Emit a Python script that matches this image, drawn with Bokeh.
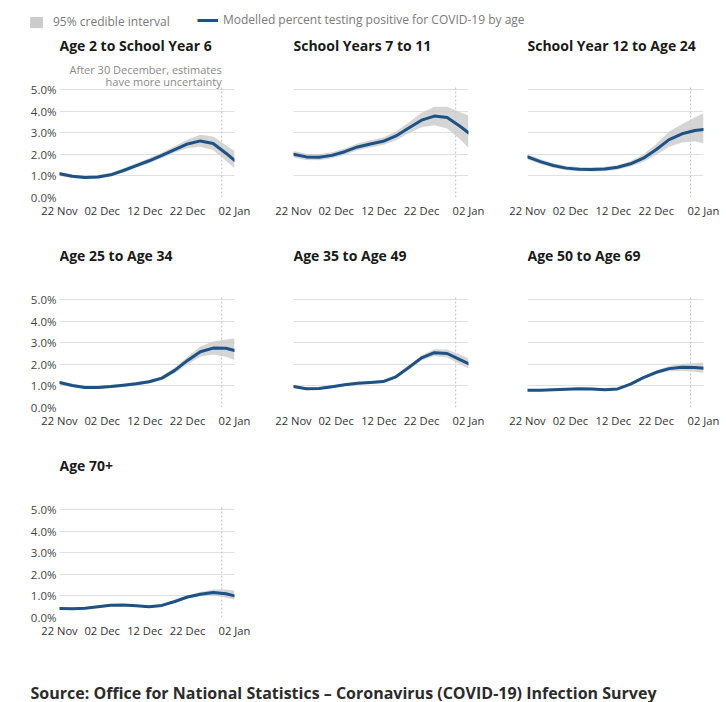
import pandas as pd
from bokeh.plotting import figure
from bokeh.layouts import column, row
from bokeh.models import (Range1d, FixedTicker, PrintfTickFormatter,
                          DatetimeTickFormatter, ColumnDataSource, Legend, LegendItem)
from bokeh.core.properties import value
from bokeh.embed import file_html
from bokeh.resources import INLINE

# ---- data -------------------------------------------------------------
dates = ["2020-11-22", "2020-11-25", "2020-11-28", "2020-12-01", "2020-12-04",
         "2020-12-07", "2020-12-10", "2020-12-13", "2020-12-16", "2020-12-19",
         "2020-12-22", "2020-12-25", "2020-12-28", "2020-12-31", "2021-01-02"]
tick_dates = ["2020-11-22", "2020-12-02", "2020-12-12", "2020-12-22", "2021-01-02"]
uncertain_from = "2020-12-30"
y_ticks = [0, 1, 2, 3, 4, 5]

titles = ["Age 2 to School Year 6", "School Years 7 to 11", "School Year 12 to Age 24",
          "Age 25 to Age 34", "Age 35 to Age 49", "Age 50 to Age 69", "Age 70+"]

mid_age2_sy6 = [1.10, 0.98, 0.93, 0.95, 1.05, 1.25, 1.48, 1.70, 1.95, 2.22, 2.48, 2.62, 2.50, 2.05, 1.72]
lo_age2_sy6 = [1.00, 0.90, 0.85, 0.87, 0.97, 1.16, 1.38, 1.59, 1.83, 2.08, 2.28, 2.35, 2.20, 1.70, 1.35]
hi_age2_sy6 = [1.20, 1.07, 1.02, 1.04, 1.14, 1.35, 1.59, 1.82, 2.08, 2.37, 2.68, 2.90, 2.82, 2.42, 2.15]

mid_sy7_11 = [2.00, 1.88, 1.86, 1.95, 2.12, 2.34, 2.48, 2.60, 2.85, 3.22, 3.58, 3.77, 3.70, 3.30, 3.00]
lo_sy7_11 = [1.85, 1.74, 1.72, 1.82, 1.98, 2.19, 2.32, 2.43, 2.65, 2.98, 3.25, 3.35, 3.20, 2.70, 2.30]
hi_sy7_11 = [2.15, 2.02, 2.00, 2.09, 2.27, 2.50, 2.65, 2.78, 3.06, 3.47, 3.92, 4.20, 4.20, 3.95, 3.80]

mid_sy12_24 = [1.88, 1.66, 1.48, 1.36, 1.31, 1.30, 1.32, 1.40, 1.56, 1.82, 2.22, 2.68, 2.95, 3.10, 3.15]
lo_sy12_24 = [1.76, 1.55, 1.38, 1.26, 1.21, 1.20, 1.22, 1.29, 1.44, 1.65, 1.98, 2.35, 2.55, 2.60, 2.50]
hi_sy12_24 = [2.00, 1.77, 1.58, 1.46, 1.41, 1.40, 1.42, 1.51, 1.68, 2.00, 2.48, 3.05, 3.40, 3.70, 3.90]

mid_25_34 = [1.16, 1.02, 0.93, 0.93, 0.97, 1.03, 1.10, 1.19, 1.36, 1.72, 2.18, 2.58, 2.75, 2.74, 2.64]
lo_25_34 = [1.08, 0.94, 0.86, 0.86, 0.90, 0.96, 1.02, 1.11, 1.27, 1.60, 2.00, 2.35, 2.45, 2.35, 2.20]
hi_25_34 = [1.24, 1.10, 1.00, 1.00, 1.04, 1.10, 1.18, 1.27, 1.45, 1.85, 2.35, 2.82, 3.05, 3.15, 3.20]

mid_35_49 = [0.97, 0.87, 0.88, 0.96, 1.05, 1.12, 1.16, 1.20, 1.42, 1.85, 2.30, 2.54, 2.50, 2.22, 2.03]
lo_35_49 = [0.91, 0.81, 0.82, 0.90, 0.99, 1.06, 1.10, 1.14, 1.35, 1.75, 2.18, 2.38, 2.32, 2.00, 1.80]
hi_35_49 = [1.03, 0.93, 0.94, 1.02, 1.11, 1.18, 1.22, 1.26, 1.49, 1.95, 2.42, 2.70, 2.68, 2.45, 2.28]

mid_50_69 = [0.80, 0.80, 0.82, 0.84, 0.87, 0.86, 0.82, 0.86, 1.08, 1.38, 1.63, 1.80, 1.86, 1.85, 1.82]
lo_50_69 = [0.75, 0.75, 0.77, 0.79, 0.82, 0.81, 0.77, 0.81, 1.02, 1.31, 1.55, 1.68, 1.70, 1.65, 1.60]
hi_50_69 = [0.85, 0.85, 0.87, 0.89, 0.92, 0.91, 0.87, 0.91, 1.14, 1.45, 1.71, 1.92, 2.02, 2.05, 2.08]

mid_70plus = [0.42, 0.40, 0.43, 0.50, 0.57, 0.58, 0.54, 0.50, 0.56, 0.74, 0.95, 1.08, 1.16, 1.10, 1.00]
lo_70plus = [0.37, 0.35, 0.38, 0.45, 0.52, 0.53, 0.49, 0.45, 0.51, 0.68, 0.88, 0.98, 1.02, 0.92, 0.82]
hi_70plus = [0.47, 0.45, 0.48, 0.55, 0.62, 0.63, 0.59, 0.55, 0.61, 0.80, 1.02, 1.18, 1.30, 1.30, 1.25]

legend_band = "95% credible interval"
legend_line = "Modelled percent testing positive for COVID-19 by age"
note_lines = ["After 30 December, estimates", "have more uncertainty"]
source_text = "Source: Office for National Statistics \u2013 Coronavirus (COVID-19) Infection Survey"

# ---- styling ----------------------------------------------------------
FONT = "Open Sans"
LINE_BLUE = "#1c5285"
BAND_GREY = "#cbcbcb"
GRID_GREY = "#e0e0e0"

x_dates = pd.to_datetime(dates)
tick_ms = [pd.Timestamp(d).timestamp() * 1000 for d in tick_dates]
cut = pd.Timestamp(uncertain_from)

series = [
    (mid_age2_sy6, lo_age2_sy6, hi_age2_sy6),
    (mid_sy7_11, lo_sy7_11, hi_sy7_11),
    (mid_sy12_24, lo_sy12_24, hi_sy12_24),
    (mid_25_34, lo_25_34, hi_25_34),
    (mid_35_49, lo_35_49, hi_35_49),
    (mid_50_69, lo_50_69, hi_50_69),
    (mid_70plus, lo_70plus, hi_70plus),
]

ROW_H = 210
BOTTOM = 48
FRAME_H = ROW_H - BOTTOM
PX_PER_PCT = 21.6
Y_TOP = FRAME_H / PX_PER_PCT


def panel(i, col):
    mid, lo, hi = series[i]
    if col == 0:
        width, left, right = 254, 59, 20
    elif col == 1:
        width, left, right = 234, 39, 20
    else:
        width, left, right = 238, 39, 23
    p = figure(width=width, height=ROW_H, output_backend="svg", toolbar_location=None,
               x_axis_type="datetime",
               x_range=Range1d(x_dates[0], x_dates[-1]),
               y_range=Range1d(0, Y_TOP),
               min_border_left=left, min_border_right=right,
               min_border_top=0, min_border_bottom=BOTTOM)
    p.outline_line_color = None
    p.background_fill_color = "white"
    p.border_fill_color = "white"

    src = ColumnDataSource(dict(date=x_dates, mid=mid, lo=lo, hi=hi))

    p.xgrid.visible = False
    p.ygrid.ticker = FixedTicker(ticks=y_ticks[1:])
    p.ygrid.grid_line_color = GRID_GREY

    p.segment(x0=[cut], y0=[0], x1=[cut], y1=[5.15], line_color="#c0c0c0",
              line_dash="2 2", line_width=1)

    p.varea(x="date", y1="lo", y2="hi", source=src, fill_color=BAND_GREY, fill_alpha=0.8)
    p.line(x="date", y="mid", source=src, line_color=LINE_BLUE, line_width=3,
           line_join="round", line_cap="round")

    p.text(x=[x_dates[0]], y=[(FRAME_H - 10) / PX_PER_PCT], text=[titles[i]],
           text_font=value(FONT), text_font_style="bold", text_font_size="14px",
           text_color="#1a1a1a", text_align="left", text_baseline="middle")

    xa = p.xaxis[0]
    xa.ticker = FixedTicker(ticks=tick_ms)
    xa.formatter = DatetimeTickFormatter(days="%d %b", months="%d %b", years="%d %b")
    xa.axis_line_color = None
    xa.major_tick_line_color = None
    xa.minor_tick_line_color = None
    xa.major_tick_out = 0
    xa.major_tick_in = 0
    xa.minor_tick_out = 0
    xa.major_label_standoff = 5
    xa.major_label_text_font = FONT
    xa.major_label_text_font_size = "11.2px"
    xa.major_label_text_color = "#333333"

    ya = p.yaxis[0]
    if col == 0:
        ya.ticker = FixedTicker(ticks=y_ticks)
        ya.formatter = PrintfTickFormatter(format="%.1f%%")
        ya.axis_line_color = None
        ya.major_tick_line_color = None
        ya.minor_tick_line_color = None
        ya.major_tick_out = 0
        ya.major_tick_in = 0
        ya.minor_tick_out = 0
        ya.major_label_standoff = 3
        ya.major_label_text_font = FONT
        ya.major_label_text_font_size = "11.5px"
        ya.major_label_text_color = "#444444"
    else:
        ya.visible = False
    return p


panels = [panel(i, i % 3) for i in range(7)]

# note about the less certain final days, first panel only
p1 = panels[0]
for k, line in enumerate(note_lines):
    p1.text(x=[cut], y=[(FRAME_H - 34 - 12 * k) / PX_PER_PCT], text=[line],
            text_font=value(FONT), text_font_size="11px", text_color="#8a8a8a",
            text_align="right", text_baseline="middle")

# ---- header legend ----------------------------------------------------
header = figure(width=726, height=35, output_backend="svg", toolbar_location=None,
                x_axis_type=None, y_axis_type=None, x_range=(0, 1), y_range=(0, 1),
                min_border=0)
header.outline_line_color = None
header.xgrid.visible = False
header.ygrid.visible = False
# renderers kept outside the visible range; they only feed the legend keys
band_r = header.varea(x=[5, 6], y1=[5, 5], y2=[6, 6], fill_color=BAND_GREY, fill_alpha=1.0)
line_r = header.line(x=[5, 6], y=[5, 5], line_color=LINE_BLUE, line_width=3)

for item, loc, gw, gh, gap in [
        (LegendItem(label=legend_band, renderers=[band_r]), (28, 5), 16, 14, 9),
        (LegendItem(label=legend_line, renderers=[line_r]), (197, 7), 21, 14, 5)]:
    leg = Legend(items=[item], location=loc, orientation="horizontal",
                 glyph_width=gw, glyph_height=gh, label_height=14, label_standoff=gap,
                 padding=0, margin=0, border_line_color=None, background_fill_alpha=0,
                 label_text_font=FONT, label_text_font_size="12px",
                 label_text_color="#7a7a7a")
    header.add_layout(leg)

# ---- footer source line -----------------------------------------------
footer = figure(width=726, height=37, output_backend="svg", toolbar_location=None,
                x_axis_type=None, y_axis_type=None,
                x_range=Range1d(0, 726), y_range=Range1d(37, 0), min_border=0)
footer.outline_line_color = None
footer.xgrid.visible = False
footer.ygrid.visible = False
footer.text(x=[30], y=[27], text=[source_text], text_font=value(FONT),
            text_font_style="bold", text_font_size="16px", text_color="#2b2b2b",
            text_align="left", text_baseline="middle")

layout = column(header,
                row(panels[0], panels[1], panels[2]),
                row(panels[3], panels[4], panels[5]),
                row(panels[6]),
                footer)

with open("out.html", "w") as f:
    f.write(file_html(layout, INLINE))
